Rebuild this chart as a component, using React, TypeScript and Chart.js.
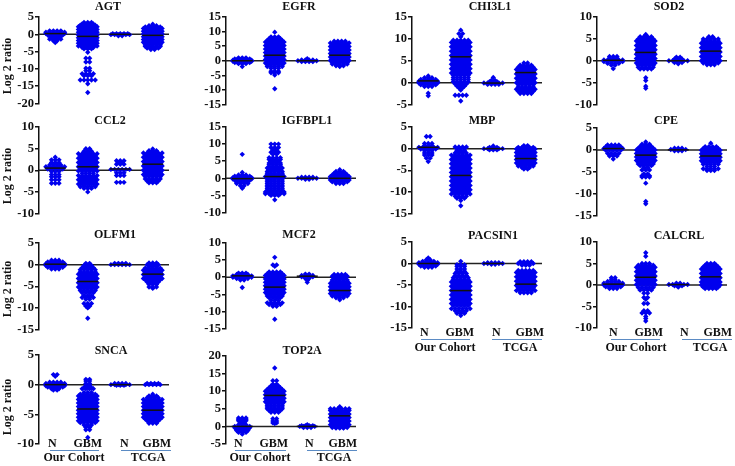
import React, { useEffect, useRef } from "react";
import { Chart, registerables } from "chart.js";

Chart.register(...registerables);

type Rows = [number, number][];

// Each list: [log2 ratio level, number of markers on that level].
const GROUP_LABELS = ["N", "GBM", "N", "GBM"];

const AGT_N1: Rows = [[1,4],[.6,6],[.2,6],[-.2,5],[-.6,4],[-1,3],[-1.4,4],[-1.9,2],[-2.4,1]];
const AGT_G1: Rows = [[3.4,3],[3,4],[2.6,5],[2.2,6],[1.8,5],[1.4,6],[1,5],[.6,6],[.2,5],[-.2,6],[-.6,5],[-1,6],[-1.4,5],[-1.8,6],[-2.2,5],[-2.6,6],[-3,5],[-3.4,6],[-3.8,4],[-4.2,3],[-5.2,1],[-6.9,2],[-8,2],[-9.8,2],[-10.5,2],[-11.4,4],[-12,3],[-13.2,5],[-14.3,1],[-16.8,1]];
const AGT_N2: Rows = [[.2,5],[-.1,6],[-.4,2]];
const AGT_G2: Rows = [[2.9,1],[2.5,3],[2.1,5],[1.7,6],[1.3,5],[.9,6],[.5,5],[.1,6],[-.3,5],[-.7,6],[-1.1,5],[-1.5,6],[-1.9,5],[-2.3,6],[-2.7,5],[-3.1,5],[-3.5,5],[-4,4],[-4.4,2]];

const EGFR_N1: Rows = [[1,3],[.6,5],[.2,6],[-.2,6],[-.6,5],[-1,3],[-2,1]];
const EGFR_G1: Rows = [[9.8,1],[8.2,3],[7.6,4],[7,5],[6.4,6],[5.8,5],[5.2,6],[4.6,5],[4,6],[3.4,5],[2.8,6],[2.2,5],[1.6,6],[1,5],[.4,6],[-.2,5],[-.8,6],[-1.4,5],[-2,5],[-2.6,3],[-3.6,3],[-4.1,3],[-4.9,1],[-9.6,1]];
const EGFR_N2: Rows = [[.7,1],[.3,4],[0,6],[-.3,4]];
const EGFR_G2: Rows = [[6.7,4],[6.1,6],[5.5,5],[4.9,6],[4.3,5],[3.7,6],[3.1,5],[2.5,6],[1.9,5],[1.3,6],[.7,5],[.1,6],[-.5,5],[-1.1,5],[-1.7,3],[-2,1]];

const CHI3L1_N1: Rows = [[1.5,1],[1.1,3],[.7,5],[.3,6],[-.1,6],[-.5,5],[-.9,3],[-2.4,1],[-3,1]];
const CHI3L1_G1: Rows = [[12,1],[11.2,2],[10.5,1],[9.7,5],[9.2,6],[8.7,5],[8.2,6],[7.7,5],[7.2,6],[6.7,5],[6.2,6],[5.7,5],[5.2,6],[4.7,5],[4.2,6],[3.7,5],[3.2,6],[2.7,5],[2.2,6],[1.7,5],[1.2,5],[.7,5],[.2,5],[-.3,4],[-.8,3],[-1.2,2],[-1.7,1],[-2.9,4],[-4.2,1]];
const CHI3L1_N2: Rows = [[1.2,1],[.5,2],[.2,3],[-.1,6],[-.4,4]];
const CHI3L1_G2: Rows = [[4.5,2],[4,4],[3.5,5],[3,6],[2.5,5],[2,6],[1.5,5],[1,6],[.5,5],[0,6],[-.5,5],[-1,5],[-1.5,6],[-2,5],[-2.5,4]];

const SOD2_N1: Rows = [[1,3],[.6,3],[.2,6],[-.2,6],[-.6,4],[-1,2],[-1.8,1]];
const SOD2_G1: Rows = [[6,1],[5.5,4],[5,5],[4.5,6],[4,5],[3.5,6],[3,5],[2.5,6],[2,5],[1.5,6],[1,5],[.5,6],[0,5],[-.5,6],[-1,5],[-1.5,5],[-1.9,4],[-3.9,1],[-4.5,1],[-5.8,1],[-6.3,1]];
const SOD2_N2: Rows = [[.8,2],[.4,3],[0,6],[-.4,3],[-.7,1]];
const SOD2_G2: Rows = [[5.5,2],[5,5],[4.5,5],[4,6],[3.5,5],[3,6],[2.5,5],[2,6],[1.5,5],[1,6],[.5,5],[0,6],[-.5,5],[-.9,3]];

const CCL2_N1: Rows = [[3,1],[2.4,3],[1.8,3],[1.2,4],[.8,6],[.3,5],[-.3,3],[-1,3],[-1.5,3],[-2.2,3],[-3,3]];
const CCL2_G1: Rows = [[5,2],[4.4,3],[3.8,6],[3.3,5],[2.8,6],[2.3,5],[1.8,6],[1.3,5],[.8,6],[.3,5],[-.2,6],[-.7,4],[-1.2,6],[-1.7,5],[-2.2,6],[-2.7,5],[-3.2,6],[-3.8,5],[-4.2,3],[-5,1]];
const CCL2_N2: Rows = [[2.2,3],[1.8,2],[1.4,3],[.2,6],[-.6,3],[-1.2,3],[-2.8,3]];
const CCL2_G2: Rows = [[4.9,1],[4.5,3],[4,6],[3.5,5],[3,6],[2.5,5],[2,6],[1.5,5],[1,6],[.5,5],[0,6],[-.5,5],[-1,6],[-1.5,5],[-2,5],[-2.5,4],[-2.9,3]];

const IGFBPL1_N1: Rows = [[7,1],[1.7,1],[1,3],[.6,5],[.2,6],[-.2,6],[-.6,5],[-1,4],[-1.5,4],[-2.2,2],[-2.9,1]];
const IGFBPL1_G1: Rows = [[10,3],[9,3],[8.3,2],[7.6,3],[7,2],[6,4],[5.5,4],[5,3],[4.5,4],[4,4],[3.5,4],[3,5],[2.5,4],[2,5],[1.5,5],[1,5],[.5,6],[0,5],[-.5,5],[-1,5],[-1.5,5],[-2,5],[-2.5,5],[-3,5],[-3.5,5],[-4,6],[-4.5,6],[-5,3],[-6.3,1]];
const IGFBPL1_N2: Rows = [[.3,4],[0,6],[-.3,2]];
const IGFBPL1_G2: Rows = [[2.5,1],[2,3],[1.5,4],[1,5],[.5,6],[0,6],[-.5,6],[-1,5],[-1.5,3]];

const MBP_N1: Rows = [[2.8,2],[1.2,3],[.7,3],[.3,6],[-.1,5],[-.5,3],[-1,3],[-1.5,3],[-2.2,2],[-3,1]];
const MBP_G1: Rows = [[.4,4],[0,3],[-.5,3],[-1,4],[-1.5,6],[-2,5],[-2.5,6],[-3,5],[-3.5,6],[-4,5],[-4.5,6],[-5,5],[-5.5,6],[-6,5],[-6.5,6],[-7,5],[-7.5,6],[-8,5],[-8.5,6],[-9,5],[-9.5,6],[-10,5],[-10.5,6],[-11,4],[-11.5,3],[-12,1],[-13.2,1]];
const MBP_N2: Rows = [[.6,1],[.3,3],[0,6],[-.3,3]];
const MBP_G2: Rows = [[.7,2],[.3,5],[-.1,6],[-.5,5],[-.9,6],[-1.3,5],[-1.7,6],[-2.1,5],[-2.5,6],[-2.9,5],[-3.3,6],[-3.7,5],[-4,5],[-4.4,3],[-4.7,2]];

const CPE_N1: Rows = [[1.1,4],[.7,5],[.3,6],[-.1,5],[-.8,4],[-1.4,3],[-2.1,1]];
const CPE_G1: Rows = [[1.8,1],[1.3,3],[.8,4],[.4,5],[0,6],[-.4,5],[-.8,6],[-1.2,5],[-1.6,6],[-2,5],[-2.4,6],[-2.8,5],[-3.2,5],[-3.6,4],[-4,2],[-4.6,3],[-5.5,2],[-5.9,3],[-6.2,3],[-7.6,1],[-11.8,1],[-12.3,1]];
const CPE_N2: Rows = [[.4,3],[.1,5],[-.2,3]];
const CPE_G2: Rows = [[1.5,1],[.7,4],[.3,5],[-.1,6],[-.5,5],[-.9,6],[-1.3,5],[-1.7,6],[-2.1,5],[-2.5,6],[-2.9,5],[-3.3,5],[-3.8,3],[-4.3,5],[-4.7,3]];

const OLFM1_N1: Rows = [[1,3],[.6,5],[.2,6],[-.2,6],[-.6,5],[-1,3]];
const OLFM1_G1: Rows = [[.3,2],[-.2,3],[-.7,4],[-1.2,5],[-1.7,5],[-2.2,6],[-2.7,5],[-3.2,6],[-3.7,5],[-4.2,6],[-4.7,5],[-5.2,6],[-5.6,5],[-6,5],[-6.5,4],[-7.2,3],[-7.6,4],[-8,2],[-9,3],[-9.6,2],[-10,1],[-12.4,1]];
const OLFM1_N2: Rows = [[.3,4],[0,6]];
const OLFM1_G2: Rows = [[.4,3],[0,4],[-.4,3],[-.8,5],[-1.3,6],[-1.8,5],[-2.3,6],[-2.8,5],[-3.2,6],[-3.5,5],[-4,4],[-4.6,3],[-5.2,3],[-5.5,1]];

const MCF2_N1: Rows = [[1.2,3],[.8,4],[.4,6],[0,6],[-.4,4],[-.8,2],[-3,1]];
const MCF2_G1: Rows = [[5.8,1],[3.6,2],[3.2,1],[1.5,4],[1,5],[.5,6],[0,5],[-.5,6],[-1,5],[-1.5,6],[-2,5],[-2.5,6],[-3,5],[-3.5,6],[-4,5],[-4.5,6],[-5,5],[-5.5,5],[-6,4],[-6.8,3],[-7.5,5],[-8,4],[-8.5,2],[-12.3,1]];
const MCF2_N2: Rows = [[.9,2],[.5,4],[.1,4],[-.4,2],[-.9,1],[-1.5,1]];
const MCF2_G2: Rows = [[.8,4],[.3,5],[-.2,4],[-.8,5],[-1.3,5],[-1.8,6],[-2.3,5],[-2.8,6],[-3.3,5],[-3.8,6],[-4.3,5],[-4.8,6],[-5.5,5],[-6,3],[-6.6,1]];

const PACSIN1_N1: Rows = [[1.3,1],[.9,2],[.5,4],[.2,6],[-.2,6],[-.6,5],[-.9,3]];
const PACSIN1_G1: Rows = [[.5,1],[-.3,3],[-.7,3],[-1.3,3],[-1.8,3],[-2.3,4],[-2.8,4],[-3.3,5],[-3.8,5],[-4.3,6],[-4.8,5],[-5.3,6],[-5.8,5],[-6.3,6],[-6.8,5],[-7.3,6],[-7.8,5],[-8.3,6],[-8.8,5],[-9.3,6],[-9.8,5],[-10.5,6],[-11,4],[-11.6,3],[-12.1,1]];
const PACSIN1_N2: Rows = [[.2,4],[0,6],[-.2,2]];
const PACSIN1_G2: Rows = [[.4,4],[0,5],[-.4,3],[-1.6,5],[-2.1,6],[-2.6,5],[-3.1,6],[-3.6,5],[-4.1,6],[-4.6,5],[-5.1,6],[-5.6,5],[-6,5],[-6.3,6],[-6.8,4]];

const CALCRL_N1: Rows = [[1.7,2],[1.2,2],[.8,4],[.4,6],[0,6],[-.4,5],[-.8,3]];
const CALCRL_G1: Rows = [[7.5,1],[6.7,1],[5,3],[4.6,5],[4.1,6],[3.6,5],[3.1,6],[2.6,5],[2.1,6],[1.6,5],[1.1,6],[.6,5],[.1,6],[-.6,5],[-1.2,4],[-1.9,2],[-2.9,2],[-3.3,1],[-4.3,2],[-6,2],[-6.5,3],[-7.3,1],[-7.8,1],[-8.4,1]];
const CALCRL_N2: Rows = [[.4,2],[.1,6],[-.2,3],[-.5,1]];
const CALCRL_G2: Rows = [[5,3],[4.6,4],[4.2,5],[3.7,6],[3.2,5],[2.7,6],[2.2,5],[1.7,6],[1.2,5],[.7,6],[.3,5],[0,6],[-.5,5],[-.8,4]];

const SNCA_N1: Rows = [[1.7,2],[1.4,1],[.4,4],[.2,6],[0,6],[-.2,6],[-.4,5],[-.7,3],[-.9,2]];
const SNCA_G1: Rows = [[.9,2],[.6,2],[.2,2],[-.1,2],[-.5,3],[-.7,4],[-1.3,3],[-1.6,5],[-1.9,6],[-2.2,5],[-2.5,6],[-2.8,5],[-3.1,6],[-3.4,5],[-3.7,6],[-4,5],[-4.3,6],[-4.6,5],[-4.9,6],[-5.2,5],[-5.5,6],[-5.8,5],[-6.1,6],[-6.4,5],[-6.8,3],[-7.2,2],[-7.6,2],[-8.9,1]];
const SNCA_N2: Rows = [[.2,4],[0,6],[-.1,3]];
const SNCA_G2: Rows = [[.2,4],[0,5],[-1.6,1],[-1.9,3],[-2.2,4],[-2.5,6],[-2.8,5],[-3.1,6],[-3.4,5],[-3.7,6],[-4,5],[-4.3,6],[-4.6,5],[-4.9,6],[-5.2,5],[-5.5,6],[-5.8,5],[-6.1,4],[-6.5,3]];

const TOP2A_N1: Rows = [[2.4,3],[2,3],[1.6,3],[1,2],[.5,3],[0,5],[-.4,5],[-.8,4],[-1.2,4],[-1.7,3],[-2.2,1]];
const TOP2A_G1: Rows = [[16.6,1],[13,2],[12,2],[11.5,3],[11,4],[10.5,5],[10,6],[9.5,5],[9,6],[8.5,5],[8,6],[7.5,5],[7,6],[6.5,5],[6,5],[5.5,5],[5,5],[4.5,4],[4,3],[2.2,2],[1.5,2],[1,2],[.8,1]];
const TOP2A_N2: Rows = [[.5,1],[.2,4],[0,5],[-.3,3]];
const TOP2A_G2: Rows = [[5.6,1],[5,6],[4.5,6],[4,5],[3.5,6],[3,5],[2.5,6],[2,5],[1.5,6],[1,5],[.5,6],[0,5],[-.3,5],[-.5,3]];

const MEDIAN_AGT = [.2, -.6, 0, -.3];
const MEDIAN_EGFR = [0, 1.9, 0, 1.9];
const MEDIAN_CHI3L1 = [.4, 5.9, -.1, 2.3];
const MEDIAN_SOD2 = [.1, 1.9, 0, 2.2];
const MEDIAN_CCL2 = [.5, .8, .3, 1.4];
const MEDIAN_IGFBPL1 = [-.1, .5, 0, 0];
const MEDIAN_MBP = [.3, -6.2, 0, -2.3];
const MEDIAN_CPE = [.3, -1.2, 0, -1.4];
const MEDIAN_OLFM1 = [.1, -3.9, 0, -2.2];
const MEDIAN_MCF2 = [.4, -2.9, .3, -3.9];
const MEDIAN_PACSIN1 = [0, -6.3, 0, -4.8];
const MEDIAN_CALCRL = [.2, 1.8, .1, 1.9];
const MEDIAN_SNCA = [0, -4.1, 0, -4.3];
const MEDIAN_TOP2A = [0, 8.8, 0, 3];

type Foot = {
  labelPx: number[]; labelTop: number; lineY: number; textY: number;
  line1: [number, number]; line2: [number, number]; our: number; tcga: number;
};
type Panel = {
  title: string; groups: Rows[]; medians: number[]; min: number; max: number;
  axisX: number; top: number; bottom: number; titleX: number; titleY: number;
  yLabelY?: number; foot?: Foot;
};

const footSNCA: Foot = { labelPx: [-3, 0, 4, 4], labelTop: -7, lineY: 6, textY: 14, line1: [11, 60], line2: [82, 132], our: 35, tcga: 109 };
const footTOP2A: Foot = { labelPx: [-4, -1, 2, 3], labelTop: -7, lineY: 6, textY: 14, line1: [9, 60], line2: [81, 131], our: 34, tcga: 108 };
const footPACSIN1: Foot = { labelPx: [-4, -1, 3, 4], labelTop: -12, lineY: 11, textY: 20, line1: [9, 58], line2: [80, 130], our: 33, tcga: 108 };
const footCALCRL: Foot = { labelPx: [0, 3, 6, 7], labelTop: -12, lineY: 11, textY: 20, line1: [14, 63], line2: [85, 135], our: 39, tcga: 113 };

const PANELS: Panel[] = [
  { title: "AGT", groups: [AGT_N1, AGT_G1, AGT_N2, AGT_G2], medians: MEDIAN_AGT, min: -20, max: 5, axisX: 39, top: 17, bottom: 104, titleX: 69, titleY: 7, yLabelY: 66 },
  { title: "EGFR", groups: [EGFR_N1, EGFR_G1, EGFR_N2, EGFR_G2], medians: MEDIAN_EGFR, min: -15, max: 15, axisX: 226, top: 17, bottom: 105, titleX: 73, titleY: 7 },
  { title: "CHI3L1", groups: [CHI3L1_N1, CHI3L1_G1, CHI3L1_N2, CHI3L1_G2], medians: MEDIAN_CHI3L1, min: -5, max: 15, axisX: 412, top: 17, bottom: 105, titleX: 78, titleY: 7 },
  { title: "SOD2", groups: [SOD2_N1, SOD2_G1, SOD2_N2, SOD2_G2], medians: MEDIAN_SOD2, min: -10, max: 10, axisX: 597, top: 17, bottom: 105, titleX: 72, titleY: 7 },
  { title: "CCL2", groups: [CCL2_N1, CCL2_G1, CCL2_N2, CCL2_G2], medians: MEDIAN_CCL2, min: -10, max: 10, axisX: 39, top: 127, bottom: 214, titleX: 71, titleY: 121, yLabelY: 176 },
  { title: "IGFBPL1", groups: [IGFBPL1_N1, IGFBPL1_G1, IGFBPL1_N2, IGFBPL1_G2], medians: MEDIAN_IGFBPL1, min: -10, max: 15, axisX: 226, top: 127, bottom: 213, titleX: 81, titleY: 121 },
  { title: "MBP", groups: [MBP_N1, MBP_G1, MBP_N2, MBP_G2], medians: MEDIAN_MBP, min: -15, max: 5, axisX: 412, top: 127, bottom: 214, titleX: 70, titleY: 121 },
  { title: "CPE", groups: [CPE_N1, CPE_G1, CPE_N2, CPE_G2], medians: MEDIAN_CPE, min: -15, max: 5, axisX: 597, top: 128, bottom: 216, titleX: 69, titleY: 121 },
  { title: "OLFM1", groups: [OLFM1_N1, OLFM1_G1, OLFM1_N2, OLFM1_G2], medians: MEDIAN_OLFM1, min: -15, max: 5, axisX: 39, top: 243, bottom: 330, titleX: 76, titleY: 235, yLabelY: 289 },
  { title: "MCF2", groups: [MCF2_N1, MCF2_G1, MCF2_N2, MCF2_G2], medians: MEDIAN_MCF2, min: -15, max: 10, axisX: 226, top: 243, bottom: 329, titleX: 73, titleY: 235 },
  { title: "PACSIN1", groups: [PACSIN1_N1, PACSIN1_G1, PACSIN1_N2, PACSIN1_G2], medians: MEDIAN_PACSIN1, min: -15, max: 5, axisX: 412, top: 242, bottom: 328, titleX: 81, titleY: 236, foot: footPACSIN1 },
  { title: "CALCRL", groups: [CALCRL_N1, CALCRL_G1, CALCRL_N2, CALCRL_G2], medians: MEDIAN_CALCRL, min: -10, max: 10, axisX: 597, top: 242, bottom: 328, titleX: 82, titleY: 236, foot: footCALCRL },
  { title: "SNCA", groups: [SNCA_N1, SNCA_G1, SNCA_N2, SNCA_G2], medians: MEDIAN_SNCA, min: -10, max: 5, axisX: 39, top: 355, bottom: 444, titleX: 72, titleY: 351, yLabelY: 407, foot: footSNCA },
  { title: "TOP2A", groups: [TOP2A_N1, TOP2A_G1, TOP2A_N2, TOP2A_G2], medians: MEDIAN_TOP2A, min: -5, max: 20, axisX: 226, top: 356, bottom: 444, titleX: 76, titleY: 351, foot: footTOP2A },
];

const FONT = "bold 12px 'Liberation Serif'";
const FONT_OPT = { family: "'Liberation Serif'", size: 12, weight: "bold" as const };
const TICK_FONT = { family: "'Liberation Serif'", size: 12.5, weight: "bold" as const };
const BLUE = "#0000ee";
const INK = "#111111";
const RULE = "#5b8bc4";
const MARKER_STEP = 0.115;
const LEFT = 39;
const PLOT_W = 130;
const RIGHT = 8;
const PAD_TOP = 17;
const UNIT_PX = PLOT_W / 4;

function swarm(rows: Rows, group: number) {
  return rows.flatMap(([v, n]) =>
    Array.from({ length: n }, (_, i) => ({ x: group + (i - (n - 1) / 2) * MARKER_STEP, y: v }))
  );
}

function PanelChart({ p }: { p: Panel }) {
  const ref = useRef<HTMLCanvasElement>(null);
  const extra = p.foot ? (p.foot.textY >= 20 ? 30 : 22) : 8;
  const height = PAD_TOP + (p.bottom - p.top) + extra;
  const width = LEFT + PLOT_W + RIGHT;

  useEffect(() => {
    const annotate = {
      id: "annotate",
      afterDraw(chart: any) {
        const { ctx, chartArea } = chart;
        ctx.save();
        ctx.fillStyle = INK;
        ctx.font = FONT;
        ctx.textAlign = "center";
        ctx.textBaseline = "middle";
        ctx.fillText(p.title, chartArea.left + p.titleX, p.titleY - p.top + chartArea.top);
        if (p.yLabelY !== undefined) {
          ctx.save();
          ctx.translate(8, p.yLabelY - p.top + chartArea.top);
          ctx.rotate(-Math.PI / 2);
          ctx.fillText("Log 2 ratio", 0, 0);
          ctx.restore();
        }
        if (p.foot) {
          const f = p.foot;
          const b = chartArea.bottom;
          ctx.strokeStyle = RULE;
          ctx.lineWidth = 1;
          for (const [a, c] of [f.line1, f.line2]) {
            ctx.beginPath();
            ctx.moveTo(chartArea.left + a, b + f.lineY + 0.5);
            ctx.lineTo(chartArea.left + c, b + f.lineY + 0.5);
            ctx.stroke();
          }
          ctx.fillText("Our Cohort", chartArea.left + f.our, b + f.textY);
          ctx.fillText("TCGA", chartArea.left + f.tcga, b + f.textY);
        }
        ctx.restore();
      },
    };

    const chart = new Chart(ref.current as HTMLCanvasElement, {
      type: "scatter",
      data: {
        datasets: [
          {
            type: "line",
            data: [{ x: -0.5, y: 0 }, { x: 3.5, y: 0 }],
            borderColor: "#222222",
            borderWidth: 1.5,
            pointRadius: 0,
            order: 3,
            clip: false,
          },
          {
            data: p.groups.flatMap((rows, g) => swarm(rows, g)),
            backgroundColor: BLUE,
            borderColor: BLUE,
            borderWidth: 0,
            pointStyle: "rectRot",
            pointRadius: 2.7,
            order: 2,
            clip: false,
          },
          {
            data: p.medians.map((y, g) => ({ x: g, y })),
            borderColor: "#111111",
            borderWidth: 1.5,
            pointStyle: "line",
            pointRadius: 10.5,
            order: 1,
            clip: false,
          },
        ] as any,
      },
      plugins: [annotate],
      options: {
        animation: false,
        responsive: false,
        devicePixelRatio: 1,
        layout: { autoPadding: false, padding: { left: 0, top: PAD_TOP, right: RIGHT, bottom: p.foot ? extra - 14 : extra } },
        plugins: { legend: { display: false }, tooltip: { enabled: false }, title: { display: false } },
        scales: {
          x: {
            type: "linear",
            min: -0.5,
            max: 3.5,
            display: !!p.foot,
            grid: { display: false, drawTicks: false },
            border: { display: false },
            afterFit: (s: any) => { if (p.foot) s.height = 14; },
            afterBuildTicks: (s: any) => {
              const f = p.foot;
              if (f) s.ticks = f.labelPx.map((d, g) => ({ value: g + d / UNIT_PX }));
            },
            ticks: {
              color: INK,
              font: FONT_OPT,
              autoSkip: false,
              maxRotation: 0,
              minRotation: 0,
              mirror: true,
              padding: p.foot ? p.foot.labelTop : 0,
              callback: (_v: any, i: number) => GROUP_LABELS[i],
            },
          },
          y: {
            type: "linear",
            min: p.min,
            max: p.max,
            afterFit: (s: any) => { s.width = LEFT; },
            border: { display: true, color: INK, width: 1.5 },
            grid: { display: true, drawOnChartArea: false, drawTicks: true, tickLength: 4, color: INK, lineWidth: 1.5 },
            ticks: { color: INK, font: TICK_FONT, stepSize: 5, autoSkip: false, padding: 1 },
          },
        },
      } as any,
    });
    return () => chart.destroy();
  }, []);

  return (
    <canvas
      ref={ref}
      width={width}
      height={height}
      style={{ position: "absolute", left: p.axisX - LEFT, top: p.top - PAD_TOP, width, height, display: "block" }}
    />
  );
}

export default function App() {
  return (
    <div style={{ position: "absolute", left: 0, top: 0, width: 735, height: 466, background: "#fff", overflow: "hidden" }}>
      {PANELS.map((p) => (
        <PanelChart key={p.title} p={p} />
      ))}
    </div>
  );
}
